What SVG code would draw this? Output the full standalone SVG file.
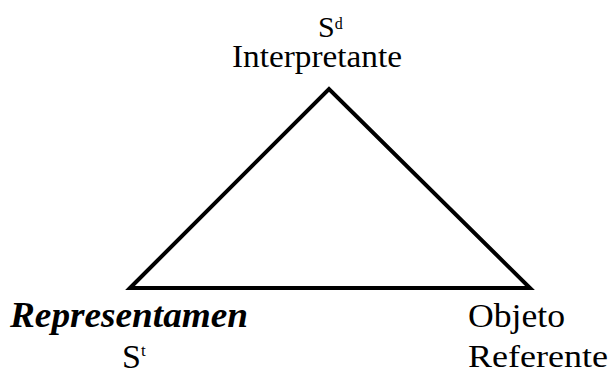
<svg xmlns="http://www.w3.org/2000/svg" width="610" height="370" viewBox="0 0 610 370">
<rect width="610" height="370" fill="#fff"/>
<g id="connectors">
<polygon fill="none" stroke="#000" stroke-width="4" stroke-linejoin="miter" stroke-miterlimit="10" points="130,288 329,89 530,288"/>
</g>
<g id="interpretante">
<text x="318" y="37" font-size="30" font-family="'Liberation Serif'">S<tspan font-size="16" dy="-8">d</tspan></text>
<text x="232" y="67" font-size="31" font-family="'Liberation Serif'" textLength="170" lengthAdjust="spacingAndGlyphs">Interpretante</text>
</g>
<g id="representamen">
<text x="10" y="327" font-size="36" font-family="'Liberation Serif'" font-weight="bold" font-style="italic" textLength="238" lengthAdjust="spacingAndGlyphs">Representamen</text>
<text x="122" y="368" font-size="34" font-family="'Liberation Serif'">S<tspan font-size="17" dy="-12">t</tspan></text>
</g>
<g id="objeto">
<text x="468" y="327" font-size="33" font-family="'Liberation Serif'" textLength="97" lengthAdjust="spacingAndGlyphs">Objeto</text>
<text x="468" y="367" font-size="32" font-family="'Liberation Serif'" textLength="140" lengthAdjust="spacingAndGlyphs">Referente</text>
</g>
</svg>
